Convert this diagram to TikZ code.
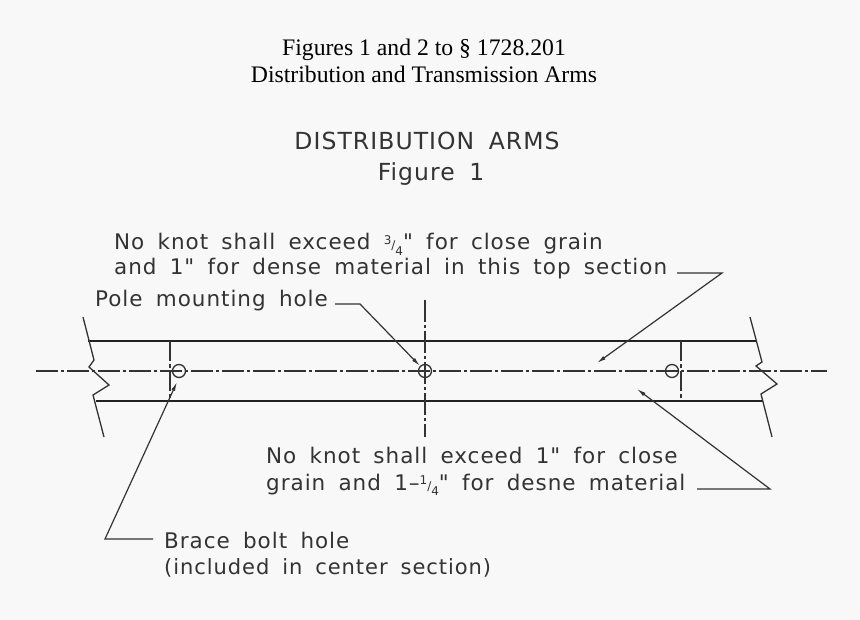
\documentclass[tikz,border=0pt]{standalone}
\usepackage{fontspec}
\setmainfont{Liberation Serif}
\newfontfamily\cad[LetterSpace=4.5,WordSpace=1.7]{DejaVu Sans}
\usetikzlibrary{arrows.meta}
\definecolor{paper}{HTML}{F8F8F8}
\definecolor{ink}{HTML}{333333}
\definecolor{beamink}{HTML}{222222}
\newcommand{\cadfrac}[2]{{\fontsize{12}{12}\selectfont\raisebox{0.8ex}{#1}/\raisebox{-0.8ex}{#2}}}
\tikzset{
  x=1pt,y=-1pt,
  title/.style={font=\fontsize{23.7}{23.7}\selectfont,text=black,inner sep=0pt,anchor=center},
  head/.style={font=\cad\fontsize{23.5}{23.5}\selectfont,text=ink,inner sep=0pt,anchor=base},
  lbl/.style={font=\cad\fontsize{21.5}{21.5}\selectfont,text=ink,inner sep=0pt,anchor=base west},
  beam/.style={line width=2pt,draw=beamink},
  brk/.style={line width=1.3pt,draw=ink},
  centre/.style={line width=1.2pt,draw=ink,dash pattern=on 22pt off 3pt on 3pt off 3pt},
  section/.style={line width=1.2pt,draw=ink,dash pattern=on 20pt off 3pt on 4pt off 3pt},
  hole/.style={circle,draw=ink,line width=1.3pt,minimum size=13pt,inner sep=0pt},
  leader/.style={line width=1.2pt,draw=ink,-{Latex[length=9pt,width=4pt]}}
}
\begin{document}
\begin{tikzpicture}
\path[use as bounding box,fill=paper] (0,0) rectangle (860,620);
\node[title] (t1) at (424,50) {Figures 1 and 2 to § 1728.201};
\node[title] (t2) at (424,74) {Distribution and Transmission Arms};
\node[head] (h1) at (427,150) {DISTRIBUTION ARMS};
\node[head] (h2) at (431,181) {Figure 1};
\node[lbl] (a1) at (114,250) {No knot shall exceed \cadfrac{3}{4}" for close grain};
\node[lbl] (a2) at (114,275) {and 1" for dense material in this top section};
\node[lbl] (p) at (95,307) {Pole mounting hole};
\node[lbl] (b1) at (266,463) {No knot shall exceed 1" for close};
\node[lbl] (b2) at (266,490) {grain and 1–\cadfrac{1}{4}" for desne material};
\node[lbl] (c1) at (164,548) {Brace bolt hole};
\node[lbl,font=\cad\fontsize{21}{21}\selectfont] (c2) at (164,574) {(included in center section)};
% beam
\coordinate (tl) at (88,341); \coordinate (tr) at (756,341);
\coordinate (bl) at (96,401); \coordinate (br) at (763,401);
\draw[beam] (tl) -- (tr);
\draw[beam] (bl) -- (br);
\coordinate (cl) at (36,371); \coordinate (cr) at (827,371);
\draw[centre] (cl) -- (cr);
\coordinate (vt) at (425,300); \coordinate (vb) at (425,437);
\draw[centre] (vt) -- (vb);
\draw[section] (170,341) -- (170,401);
\draw[section] (681,341) -- (681,401);
\node[hole] (hl) at (179,371) {};
\node[hole] (hc) at (425,371) {};
\node[hole] (hr) at (672,371) {};
% breaks
\draw[brk] (83,317) -- (94,360) -- (89,367) -- (109,385) -- (93,395) -- (104,437);
\draw[brk] (750,317) -- (762,362) -- (756,366) -- (777,384) -- (761,394) -- (772,437);
% leaders
\coordinate (p1) at (335,304); \coordinate (p2) at (360,304);
\draw[leader] (p1) -- (p2) -- (hc.north west);
\coordinate (s1) at (677,273); \coordinate (s2) at (722,273); \coordinate (s3) at (597,363);
\draw[leader] (s1) -- (s2) -- (s3);
\coordinate (d1) at (697,489); \coordinate (d2) at (770,489); \coordinate (d3) at (637,389);
\draw[leader] (d1) -- (d2) -- (d3);
\coordinate (e1) at (153,539); \coordinate (e2) at (105,539); \coordinate (e3) at (177,382);
\draw[leader] (e1) -- (e2) -- (e3);
\end{tikzpicture}
\end{document}
